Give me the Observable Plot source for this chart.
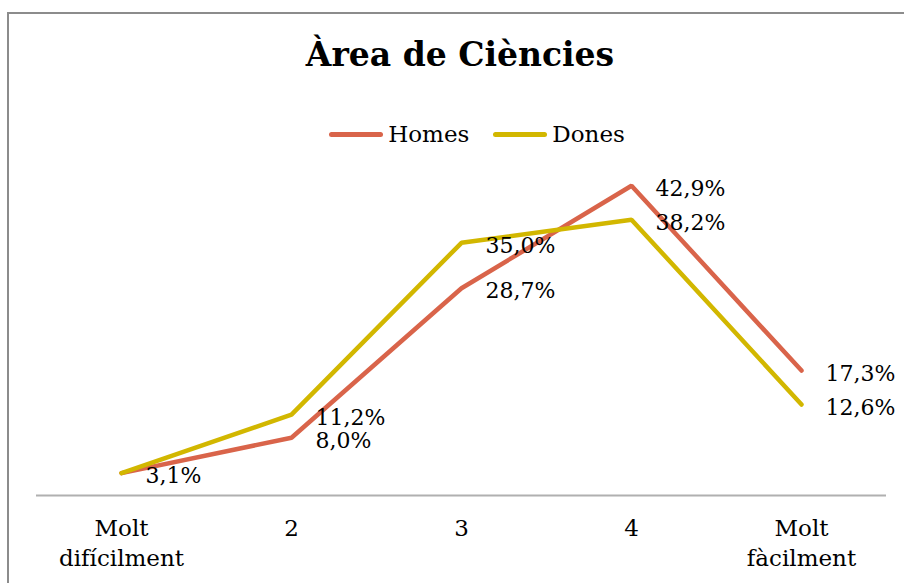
<!DOCTYPE html>
<html>
<head>
<meta charset="utf-8">
<script src="https://cdn.jsdelivr.net/npm/d3@7"></script>
<script src="https://cdn.jsdelivr.net/npm/@observablehq/plot@0.6"></script>
<style>
  html, body { margin: 0; padding: 0; background: #fff; }
  #wrap { position: relative; width: 904px; height: 583px; overflow: hidden; font-family: "DejaVu Serif", serif; }
  #frame { position: absolute; left: 7px; top: 12px; width: 910px; height: 600px; border-top: 2px solid #8c8c8c; border-left: 2px solid #8c8c8c; box-sizing: border-box; }
  #title { position: absolute; left: 0; width: 920px; top: 35px; text-align: center; font-weight: bold; font-size: 33px; color: #000; line-height: 40px; }
  #legend { position: absolute; top: 119px; left: 0; width: 954px; display: flex; justify-content: center; gap: 24px; font-size: 23px; line-height: 30px; }
  .item { display: flex; align-items: center; }
  .sw { width: 54px; height: 5px; border-radius: 3px; margin-right: 5px; }
  #chart { position: absolute; left: 0; top: 0; }
</style>
</head>
<body>
<div id="wrap">
  <div id="frame"></div>
  <div id="chart"></div>
  <div id="title">Àrea de Ciències</div>
  <div id="legend"></div>
</div>
<script>
const categories = ["Molt\ndifícilment", "2", "3", "4", "Molt\nfàcilment"];
const homes = [3.1, 8.0, 28.7, 42.9, 17.3];
const dones = [3.1, 11.2, 35.0, 38.2, 12.6];
const seriesNames = ["Homes", "Dones"];
const seriesColors = ["#d9644a", "#d2b700"];

const data = [];
categories.forEach((c, i) => {
  data.push({cat: c, series: "Homes", value: homes[i]});
  data.push({cat: c, series: "Dones", value: dones[i]});
});
// one label per distinct value at a category (coincident labels drawn once)
const labels = data.filter(d => !(d.series === "Dones" && dones[categories.indexOf(d.cat)] === homes[categories.indexOf(d.cat)]));
const fmt = v => v.toFixed(1).replace(".", ",") + "%";

const legend = document.getElementById("legend");
seriesNames.forEach((s, i) => {
  const it = document.createElement("div");
  it.className = "item";
  it.innerHTML = `<div class="sw" style="background:${seriesColors[i]}"></div><span>${s}</span>`;
  legend.appendChild(it);
});

const chart = Plot.plot({
  width: 904,
  height: 583,
  marginLeft: 36,
  marginRight: 18,
  marginTop: 134,
  marginBottom: 88,
  style: {fontFamily: "DejaVu Serif, serif", fontSize: "23px", color: "#000", background: "transparent"},
  x: {type: "point", domain: categories, padding: 0.5, label: null},
  y: {domain: [0, 50], axis: null},
  color: {domain: seriesNames, range: seriesColors},
  marks: [
    Plot.ruleY([0], {stroke: "#b0b0b0", strokeWidth: 2}),
    Plot.axisX({tickSize: 0, tickPadding: 19, lineHeight: 1.3, fontSize: 23, label: null, fill: "#000"}),
    Plot.line(data, {x: "cat", y: "value", z: "series", stroke: "series", strokeWidth: 4.5, strokeLinejoin: "miter", strokeLinecap: "round"}),
    Plot.text(labels, {x: "cat", y: "value", text: d => fmt(d.value), textAnchor: "start", dx: 24, dy: 3, fill: "#000", fontSize: 22})
  ]
});
document.getElementById("chart").appendChild(chart);
</script>
</body>
</html>
